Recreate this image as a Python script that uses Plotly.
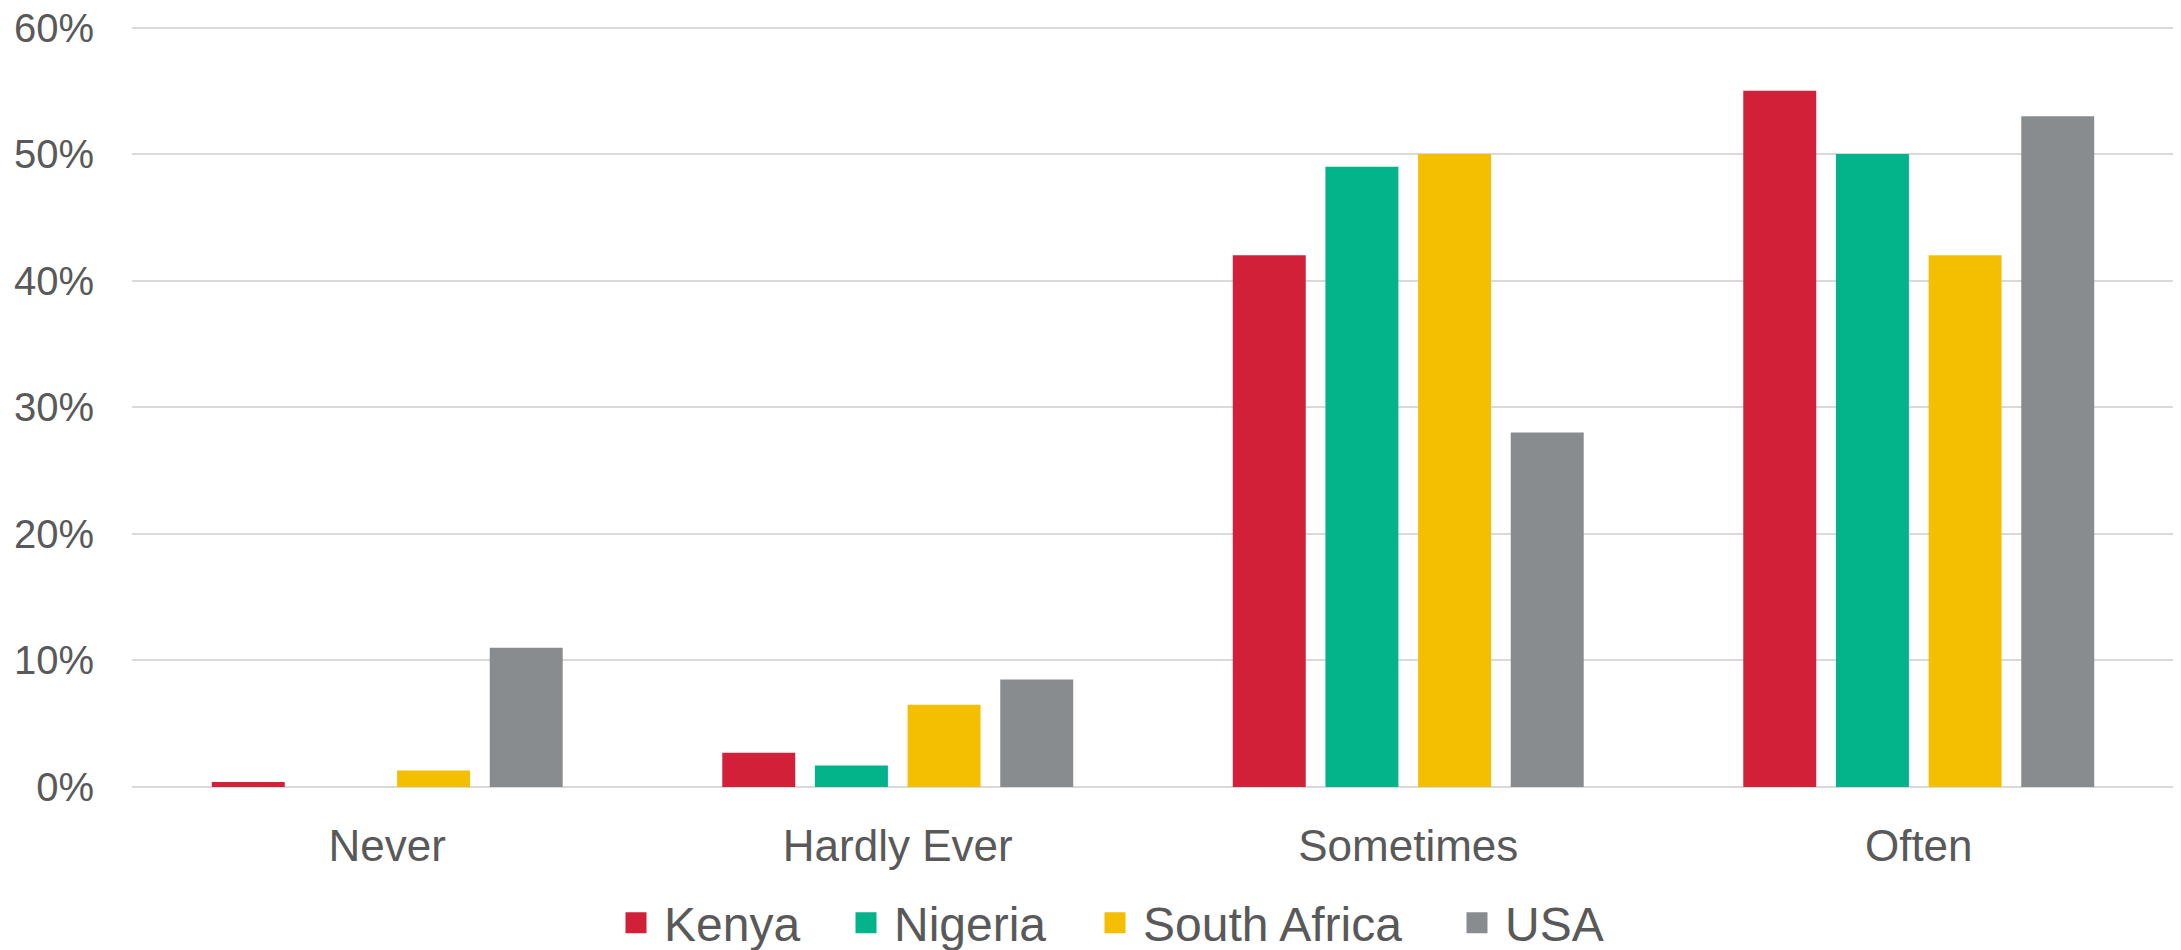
import plotly.graph_objects as go

categories = ["Never", "Hardly Ever", "Sometimes", "Often"]
series_names = ["Kenya", "Nigeria", "South Africa", "USA"]
kenya = [0.4, 2.7, 42, 55]
nigeria = [0, 1.7, 49, 50]
south_africa = [1.3, 6.5, 50, 42]
usa = [11, 8.5, 28, 53]
colors = ["#D22039", "#03B389", "#F4BF00", "#898C8E"]
y_ticks = [0, 10, 20, 30, 40, 50, 60]
y_tick_labels = [f"{v}%" for v in y_ticks]

values = [kenya, nigeria, south_africa, usa]
font_family = "Liberation Sans, Arial, sans-serif"
text_color = "#595959"

# the page body adds an 8px offset, so the figure is sized to fit the window
OFF = 8
W, H = 2181 - OFF, 950 - OFF
# left edge (page px) of each legend entry box
legend_left_px = [608, 838, 1087, 1449]
legend_keys = ["legend", "legend2", "legend3", "legend4"]

fig = go.Figure()
for name, vals, col in zip(series_names, values, colors):
    fig.add_trace(go.Bar(
        x=categories, y=vals, name=name,
        marker=dict(color=col, line=dict(width=0)),
        showlegend=False,
    ))
for name, col, lk in zip(series_names, colors, legend_keys):
    fig.add_trace(go.Scatter(
        x=[None], y=[None], mode="markers", name=name, legend=lk,
        marker=dict(symbol="square", size=16, color=col,
                    line=dict(color=col, width=10)),
        showlegend=True,
    ))

legend_common = dict(
    orientation="h", xref="container", xanchor="left",
    yref="container", y=1 - (923 - OFF) / H, yanchor="middle",
    font=dict(size=48, color=text_color, family=font_family),
    itemsizing="trace", itemwidth=46,
    bgcolor="rgba(0,0,0,0)", borderwidth=0,
)
legends = {}
for lk, px in zip(legend_keys, legend_left_px):
    legends[lk] = dict(legend_common, x=(px - OFF) / W)

fig.update_layout(
    width=W, height=H,
    margin=dict(l=132 - OFF, r=7, t=25 - OFF, b=163, pad=0, autoexpand=False),
    paper_bgcolor="white", plot_bgcolor="white",
    barmode="group", bargap=0.274, bargroupgap=0.2125,
    font=dict(family=font_family, color=text_color),
    xaxis=dict(
        type="category", showgrid=False, showline=False, ticks="",
        tickfont=dict(size=44, color=text_color),
        ticklabelstandoff=29, ticklabeloverflow="allow",
    ),
    yaxis=dict(
        range=[0, 60.2], tickmode="array", tickvals=y_ticks,
        ticktext=y_tick_labels,
        showgrid=True, gridcolor="#D9D9D9", gridwidth=1.5,
        zeroline=True, zerolinecolor="#D9D9D9", zerolinewidth=2,
        showline=False, ticks="",
        tickfont=dict(size=40, color=text_color),
        ticklabelstandoff=37, ticklabeloverflow="allow",
    ),
    **legends,
)

fig.write_html("out.html")
